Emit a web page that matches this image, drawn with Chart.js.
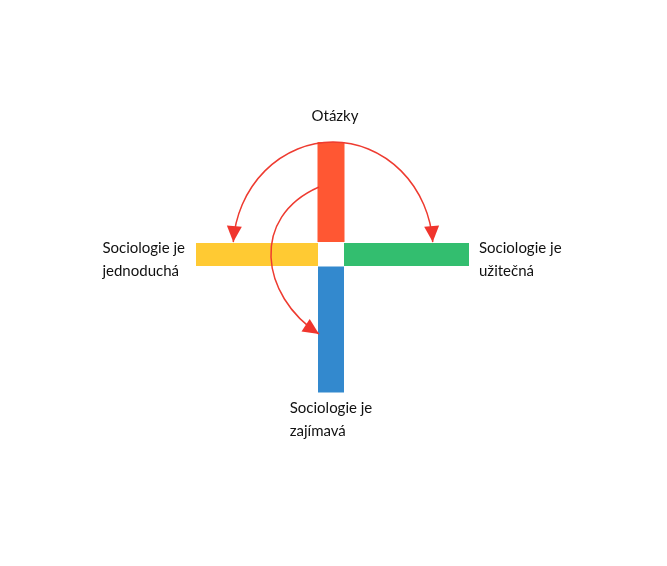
<!DOCTYPE html>
<html>
<head>
<meta charset="utf-8">
<script src="https://cdn.jsdelivr.net/npm/chart.js@4.4.1/dist/chart.umd.min.js"></script>
<style>
  html, body { margin: 0; padding: 0; background: #fff; }
  #wrap { width: 667px; height: 566px; position: relative; }
</style>
</head>
<body>
<div id="wrap"><canvas id="chart"></canvas></div>
<script>
// popisky ramen kříže (nahoru, vlevo, vpravo, dolů)
const armLabels = [['Otázky'], ['Sociologie je', 'jednoduchá'], ['Sociologie je', 'užitečná'], ['Sociologie je', 'zajímavá']];
const armLengths = [100, 122, 125, 126];
const armGap = [12.5, 13, 13, 12];

const armColors = ['#FF5733', '#FFCA33', '#33BE6F', '#3389CE'];
const armWidths = [27, 23, 23, 26];
const armDirs = [[0, 1], [-1, 0], [1, 0], [0, -1]];

// oblouky nad křížem: elipsy v jednotkách os, úhly v canvasu (y dolů)
const arcs = [
    { cx: 2, cy: 4.5, rx: 100, ry: 108, from: -90, to: -175.8, ccw: true },
    { cx: 2, cy: 4.5, rx: 100, ry: 108, from: -90, to: -4.2, ccw: false }
];
// zahnutá šipka k "zajímavá" (bezier, body v jednotkách os)
const curveX = [-12, -81, -71, -12];
const curveY = [67.5, 37.5, -41, -79.5];

const datasets = armLengths.map((len, i) => {
    const [dx, dy] = armDirs[i];
    const g = armGap[i];
    return {
        label: armLabels[i].join(' '),
        data: [{ x: dx * g, y: dy * g }, { x: dx * (g + len), y: dy * (g + len) }],
        borderColor: armColors[i],
        borderWidth: armWidths[i],
        borderCapStyle: 'butt',
        pointRadius: 0,
        fill: false
    };
});

function arrowHead(ctx, ex, ey, dx, dy) {
    const n = Math.hypot(dx, dy); dx /= n; dy /= n;
    const L = 16, W = 7.5;
    ctx.beginPath();
    ctx.moveTo(ex, ey);
    ctx.lineTo(ex - dx * L - dy * W, ey - dy * L + dx * W);
    ctx.lineTo(ex - dx * L + dy * W, ey - dy * L - dx * W);
    ctx.closePath();
    ctx.fill();
}

const overlay = {
    id: 'overlay',
    afterDatasetsDraw(chart) {
        const ctx = chart.ctx;
        const xs = chart.scales.x, ys = chart.scales.y;
        const px = v => xs.getPixelForValue(v);
        const py = v => ys.getPixelForValue(v);

        ctx.save();
        ctx.strokeStyle = '#EE3B30';
        ctx.fillStyle = '#F0352D';
        ctx.lineWidth = 1.5;
        arcs.forEach(a => {
            const cx = px(a.cx), cy = py(a.cy);
            const rx = Math.abs(px(a.cx + a.rx) - cx), ry = Math.abs(py(a.cy + a.ry) - cy);
            const t0 = a.from * Math.PI / 180, t1 = a.to * Math.PI / 180;
            ctx.beginPath();
            ctx.ellipse(cx, cy, rx, ry, 0, t0, t1, a.ccw);
            ctx.stroke();
            const ex = cx + rx * Math.cos(t1), ey = cy + ry * Math.sin(t1);
            const dx = a.ccw ? rx * Math.sin(t1) : -rx * Math.sin(t1);
            const dy = a.ccw ? -ry * Math.cos(t1) : ry * Math.cos(t1);
            arrowHead(ctx, ex, ey, dx, dy);
        });

        const bx = curveX.map(px), by = curveY.map(py);
        ctx.beginPath();
        ctx.moveTo(bx[0], by[0]);
        ctx.bezierCurveTo(bx[1], by[1], bx[2], by[2], bx[3], by[3]);
        ctx.stroke();
        arrowHead(ctx, bx[3], by[3], bx[3] - bx[2], by[3] - by[2]);

        // popisky
        ctx.fillStyle = '#111';
        ctx.font = '15px Lato, "Open Sans", sans-serif';
        ctx.textBaseline = 'alphabetic';
        ctx.textAlign = 'left';
        const lh = 23;
        armLengths.forEach((len, i) => {
            const lines = armLabels[i];
            const w = Math.max(...lines.map(s => ctx.measureText(s).width));
            const [dx, dy] = armDirs[i];
            const end = armGap[i] + len;
            const ex = px(dx * end), ey = py(dy * end);
            let x0, y0;
            if (i === 0) { x0 = ex + 4 - w / 2; y0 = ey - 21; }
            else if (i === 1) { x0 = ex - 11 - w; y0 = ey - 2; }
            else if (i === 2) { x0 = ex + 10; y0 = ey - 2; }
            else { x0 = ex - w / 2; y0 = ey + 20; }
            lines.forEach((s, k) => ctx.fillText(s, x0, y0 + k * lh));
        });
        ctx.restore();
    }
};

new Chart(document.getElementById('chart'), {
    type: 'line',
    data: { datasets },
    options: {
        responsive: true,
        maintainAspectRatio: false,
        animation: false,
        layout: { padding: 0 },
        plugins: { legend: { display: false }, tooltip: { enabled: false } },
        scales: {
            x: { type: 'linear', min: -331, max: 336, display: false },
            y: { type: 'linear', min: -311.5, max: 254.5, display: false }
        }
    },
    plugins: [overlay]
});
</script>
</body>
</html>
